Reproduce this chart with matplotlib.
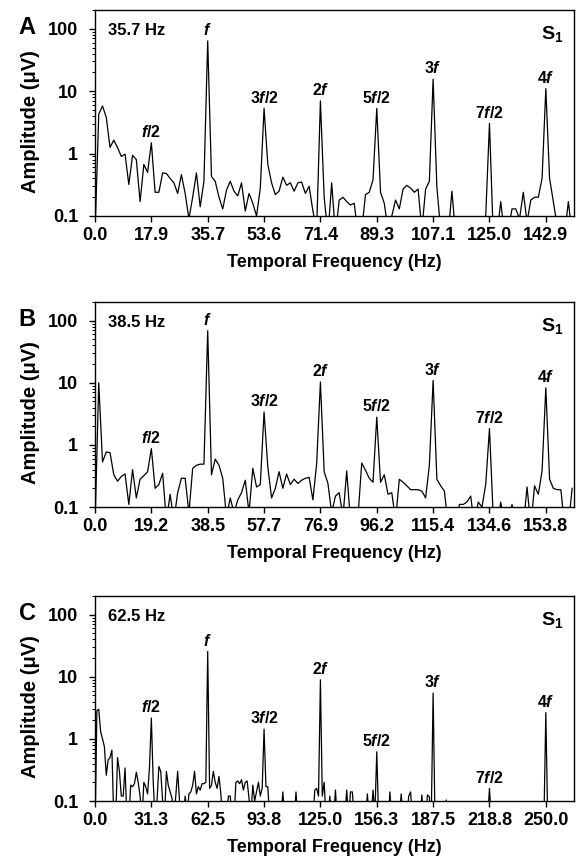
import numpy as np
import matplotlib
matplotlib.use("Agg")
import matplotlib.pyplot as plt

plt.rcParams['font.family'] = ['Liberation Sans', 'DejaVu Sans']
plt.rcParams['font.weight'] = 'bold'
plt.rcParams['mathtext.fontset'] = 'custom'
plt.rcParams['mathtext.rm'] = 'Liberation Sans:bold'
plt.rcParams['mathtext.it'] = 'Liberation Sans:bold:italic'
plt.rcParams['mathtext.bf'] = 'Liberation Sans:bold'

# stimulus frequencies (Hz) and panel letters
stim_freqs = [35.7, 38.5, 62.5]
stim_labels = ["35.7 Hz", "38.5 Hz", "62.5 Hz"]
panel_letters = ["A", "B", "C"]
bins_per_half = [15, 15, 30]   # spectral bins between f/2 harmonics

tick_labels = [
    ["0.0", "17.9", "35.7", "53.6", "71.4", "89.3", "107.1", "125.0", "142.9"],
    ["0.0", "19.2", "38.5", "57.7", "76.9", "96.2", "115.4", "134.6", "153.8"],
    ["0.0", "31.3", "62.5", "93.8", "125.0", "156.3", "187.5", "218.8", "250.0"],
]
harm_labels = ["$f$/2", "$f$", "3$f$/2", "2$f$", "5$f$/2", "3$f$", "7$f$/2", "4$f$"]

# amplitude spectra (uV), values below 0.1 are off the axis
amp_a = [0.05, 4.3, 5.8, 3.8, 1.26, 1.64, 1.25, 0.9, 0.98, 0.32,
         0.94, 0.8, 0.17, 0.67, 0.5, 1.49, 0.24, 0.24, 0.49, 0.48,
         0.4, 0.34, 0.23, 0.46, 0.23, 0.09, 0.2, 0.49, 0.14, 0.36,
         64.0, 0.43, 0.36, 0.2, 0.13, 0.26, 0.36, 0.25, 0.21, 0.34,
         0.12, 0.23, 0.16, 0.1, 0.28, 5.3, 0.67, 0.34, 0.22, 0.25,
         0.42, 0.31, 0.34, 0.25, 0.34, 0.35, 0.23, 0.3, 0.12, 0.06,
         7.0, 0.2, 0.05, 0.34, 0.05, 0.18, 0.2, 0.17, 0.15, 0.16,
         0.05, 0.06, 0.22, 0.24, 0.38, 5.3, 0.24, 0.16, 0.06, 0.1,
         0.18, 0.13, 0.27, 0.31, 0.28, 0.24, 0.27, 0.06, 0.27, 0.36,
         15.6, 0.29, 0.06, 0.05, 0.05, 0.25, 0.05, 0.05, 0.05, 0.05,
         0.05, 0.05, 0.05, 0.05, 0.1, 3.05, 0.05, 0.05, 0.17, 0.05,
         0.06, 0.13, 0.13, 0.09, 0.24, 0.08, 0.18, 0.2, 0.2, 0.4,
         11.0, 0.4, 0.17, 0.07, 0.05, 0.05, 0.17, 0.05]

amp_b = [0.05, 10.0, 0.53, 0.77, 0.75, 0.33, 0.26, 0.31, 0.34, 0.11,
         0.4, 0.14, 0.28, 0.32, 0.37, 0.87, 0.2, 0.23, 0.35, 0.06,
         0.16, 0.06, 0.17, 0.29, 0.29, 0.08, 0.42, 0.47, 0.49, 0.49,
         69.0, 0.33, 0.59, 0.47, 0.29, 0.07, 0.14, 0.08, 0.13, 0.17,
         0.27, 0.08, 0.42, 0.21, 0.23, 3.4, 0.44, 0.14, 0.2, 0.37,
         0.2, 0.34, 0.23, 0.28, 0.24, 0.27, 0.29, 0.3, 0.13, 0.5,
         10.3, 0.37, 0.24, 0.08, 0.15, 0.17, 0.07, 0.38, 0.06, 0.06,
         0.07, 0.51, 0.39, 0.29, 0.25, 2.8, 0.25, 0.33, 0.16, 0.17,
         0.06, 0.28, 0.25, 0.22, 0.19, 0.19, 0.19, 0.18, 0.14, 0.47,
         10.9, 0.28, 0.22, 0.18, 0.05, 0.05, 0.05, 0.11, 0.11, 0.12,
         0.15, 0.05, 0.12, 0.1, 0.23, 1.83, 0.07, 0.05, 0.12, 0.05,
         0.05, 0.11, 0.05, 0.05, 0.05, 0.21, 0.05, 0.22, 0.16, 0.38,
         8.3, 0.28, 0.2, 0.19, 0.19, 0.05, 0.05, 0.2]

amp_c = [0.03, 2.86, 3.0, 1.3, 1.0, 0.75, 0.26, 0.46, 0.5, 0.66,
         0.05, 0.05, 0.5, 0.3, 0.12, 0.12, 0.34, 0.05, 0.05, 0.18,
         0.17, 0.19, 0.29, 0.2, 0.12, 0.05, 0.2, 0.17, 0.13, 0.35,
         2.16, 0.2, 0.05, 0.1, 0.36, 0.3, 0.1, 0.05, 0.3, 0.18,
         0.14, 0.11, 0.06, 0.12, 0.3, 0.1, 0.05, 0.05, 0.12, 0.06,
         0.13, 0.14, 0.18, 0.3, 0.13, 0.17, 0.15, 0.19, 0.19, 0.2,
         25.6, 0.16, 0.18, 0.3, 0.2, 0.16, 0.25, 0.13, 0.05, 0.05,
         0.05, 0.12, 0.12, 0.05, 0.05, 0.2, 0.21, 0.19, 0.22, 0.15,
         0.2, 0.21, 0.11, 0.06, 0.18, 0.1, 0.14, 0.2, 0.12, 0.16,
         1.43, 0.17, 0.17, 0.05, 0.05, 0.05, 0.05, 0.05, 0.05, 0.05,
         0.14, 0.05, 0.05, 0.05, 0.05, 0.05, 0.05, 0.14, 0.05, 0.05,
         0.05, 0.05, 0.05, 0.05, 0.05, 0.05, 0.05, 0.15, 0.16, 0.12,
         8.95, 0.12, 0.2, 0.05, 0.05, 0.12, 0.05, 0.05, 0.15, 0.05,
         0.05, 0.05, 0.05, 0.05, 0.15, 0.05, 0.14, 0.14, 0.05, 0.05,
         0.05, 0.05, 0.05, 0.05, 0.05, 0.13, 0.05, 0.05, 0.15, 0.06,
         0.62, 0.05, 0.05, 0.05, 0.05, 0.05, 0.05, 0.14, 0.05, 0.05,
         0.05, 0.05, 0.05, 0.13, 0.05, 0.05, 0.05, 0.12, 0.14, 0.05,
         0.05, 0.05, 0.05, 0.05, 0.125, 0.05, 0.05, 0.125, 0.117, 0.05,
         5.46, 0.05, 0.05, 0.05, 0.05, 0.05, 0.05, 0.104, 0.05, 0.05,
         0.05, 0.05, 0.05, 0.05, 0.05, 0.05, 0.05, 0.05, 0.05, 0.05,
         0.05, 0.05, 0.05, 0.05, 0.05, 0.05, 0.05, 0.05, 0.05, 0.05,
         0.16, 0.05, 0.05, 0.05, 0.05, 0.05, 0.05, 0.05, 0.05, 0.05,
         0.05, 0.05, 0.05, 0.05, 0.05, 0.05, 0.05, 0.05, 0.05, 0.05,
         0.05, 0.05, 0.05, 0.05, 0.05, 0.05, 0.05, 0.05, 0.05, 0.05,
         2.65, 0.05, 0.05, 0.05, 0.05, 0.05, 0.05, 0.05, 0.05, 0.05,
         0.05, 0.05, 0.05, 0.05, 0.05, 0.05]
spectra = [amp_a, amp_b, amp_c]

fig = plt.figure(figsize=(5.8, 8.67), dpi=100)
W, H = 580.0, 867.0
panel_px = [(10, 216), (302, 507), (596, 801)]   # top, bottom in pixels
left_px, right_px = 95, 574

for i in range(3):
    top, bot = panel_px[i]
    ax = fig.add_axes([left_px / W, 1 - bot / H, (right_px - left_px) / W, (bot - top) / H])
    half = stim_freqs[i] / 2.0
    df = half / bins_per_half[i]
    amp = np.array(spectra[i])
    freq = np.arange(len(amp)) * df
    ax.plot(freq, amp, color='black', lw=0.9)
    ax.set_yscale('log')
    ax.set_ylim(0.1, 200)
    ax.set_xlim(0, 8.5 * half)
    ax.set_yticks([0.1, 1, 10, 100])
    ax.set_yticklabels(["0.1", "1", "10", "100"])
    ticks = np.arange(9) * half
    ax.set_xticks(ticks)
    ax.set_xticklabels(tick_labels[i])
    ax.tick_params(axis='both', which='major', labelsize=13, length=4, width=1)
    ax.tick_params(axis='x', which='major', pad=4)
    ax.tick_params(axis='y', which='major', pad=8)
    ax.tick_params(axis='y', which='minor', length=2.5, width=0.7)
    for s in ax.spines.values():
        s.set_linewidth(1)
    for lab in ax.get_xticklabels() + ax.get_yticklabels():
        lab.set_fontweight('bold')
    ax.set_xlabel("Temporal Frequency (Hz)", fontsize=13, fontweight='bold', labelpad=7)
    ax.set_ylabel("Amplitude (μV)", fontsize=14.5, fontweight='bold')
    ax.yaxis.set_label_coords(-0.115, 0.46)

    # harmonic labels above peaks
    for h in range(8):
        k = bins_per_half[i] * (h + 1)
        ax.annotate(harm_labels[h], xy=(freq[k], amp[k]), xytext=(0, 2),
                    textcoords='offset points', ha='center', va='bottom',
                    fontsize=11.5, fontweight='bold')

    ax.text(0.027, 0.90, stim_labels[i], transform=ax.transAxes, fontsize=12,
            fontweight='bold', ha='left', va='center')
    ax.text(0.978, 0.885, "S$_1$", transform=ax.transAxes, fontsize=14,
            fontweight='bold', ha='right', va='center')
    fig.text(27 / W, 1 - (top + 18) / H, panel_letters[i], fontsize=17,
             fontweight='bold', ha='center', va='center')

fig.savefig("out.png", dpi=100)
